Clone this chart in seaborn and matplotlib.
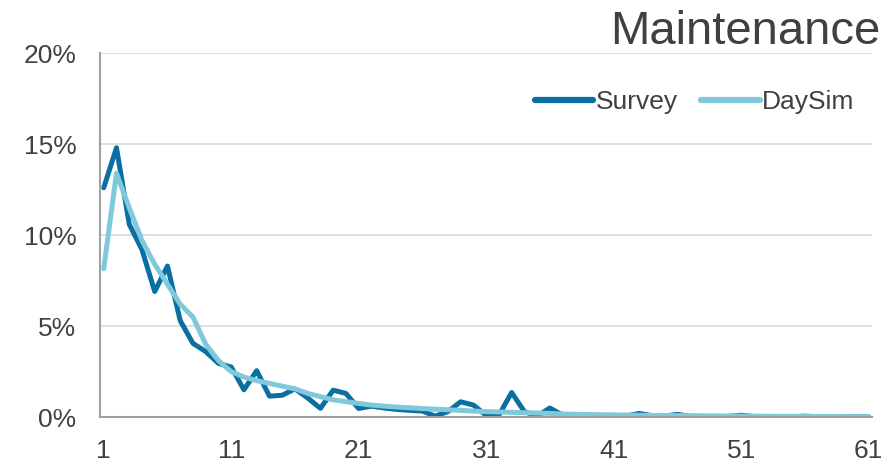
import numpy as np
import pandas as pd
import seaborn as sns
import matplotlib.pyplot as plt
from matplotlib.ticker import FuncFormatter

# share of maintenance tours by duration bin (%)
bins = list(range(1, 62))
survey = [12.6, 14.8, 10.6, 9.2, 6.9, 8.3, 5.3, 4.05, 3.6, 2.95,
          2.75, 1.5, 2.55, 1.15, 1.2, 1.55, 1.05, 0.48, 1.48, 1.3,
          0.47, 0.6, 0.5, 0.42, 0.37, 0.33, 0.05, 0.3, 0.84, 0.66,
          0.1, 0.1, 1.35, 0.3, 0.05, 0.5, 0.1, 0.08, 0.06, 0.05,
          0.05, 0.06, 0.2, 0.08, 0.05, 0.15, 0.04, 0.03, 0.03, 0.03,
          0.1, 0.03, 0.02, 0.02, 0.02, 0.05, 0.02, 0.01, 0.01, 0.01,
          0.02]
daysim = [8.15, 13.4, 11.5, 9.7, 8.4, 7.3, 6.2, 5.5, 4.0, 3.1,
          2.5, 2.2, 2.0, 1.85, 1.7, 1.55, 1.3, 1.12, 0.95, 0.85,
          0.75, 0.66, 0.6, 0.55, 0.51, 0.47, 0.43, 0.4, 0.37, 0.33,
          0.3, 0.28, 0.26, 0.24, 0.22, 0.2, 0.17, 0.15, 0.14, 0.13,
          0.12, 0.11, 0.1, 0.09, 0.085, 0.08, 0.075, 0.07, 0.065, 0.06,
          0.055, 0.05, 0.045, 0.04, 0.04, 0.035, 0.03, 0.03, 0.025, 0.02,
          0.02]
series_names = ["Survey", "DaySim"]
colors = ["#0a6fa3", "#80c8dc"]

df = pd.DataFrame({
    "bin": bins * 2,
    "share": survey + daysim,
    "source": ["Survey"] * len(bins) + ["DaySim"] * len(bins),
})

sns.set_theme(style="white")
plt.rcParams["font.family"] = ["Liberation Sans", "DejaVu Sans"]
text_color = "#404040"

fig = plt.figure(figsize=(8.92, 4.66), dpi=100)
ax = fig.add_axes([0.112, 0.105, 0.866, 0.781])

sns.lineplot(data=df, x="bin", y="share", hue="source", hue_order=series_names,
             palette=colors, linewidth=3.6, ax=ax, legend=True)
for line in ax.get_lines():
    line.set_solid_joinstyle("round")
    line.set_solid_capstyle("round")

ax.set_xlim(0.7, 61.3)
ax.set_ylim(0, 20)
ax.set_xticks(range(1, 62, 10))
ax.set_yticks(range(0, 21, 5))
ax.yaxis.set_major_formatter(FuncFormatter(lambda v, p: f"{v:.0f}%"))
ax.set_xlabel("")
ax.set_ylabel("")
ax.grid(axis="y", color="#d9d9d9", linewidth=1.2)
ax.set_axisbelow(True)
ax.tick_params(axis="both", length=0, labelsize=19, labelcolor=text_color)
ax.tick_params(axis="y", pad=17)
ax.tick_params(axis="x", pad=16)
for side in ["top", "right"]:
    ax.spines[side].set_visible(False)
for side in ["left", "bottom"]:
    ax.spines[side].set_color("#a0a0a0")
    ax.spines[side].set_linewidth(1.5)

leg = ax.legend(loc="center right", bbox_to_anchor=(0.958, 0.781), bbox_transform=fig.transFigure,
                ncol=2, frameon=False, fontsize=19, handlelength=2.2, handletextpad=0.1,
                columnspacing=0.9, borderaxespad=0, borderpad=0)
for t in leg.get_texts():
    t.set_color(text_color)
for h in leg.get_lines():
    h.set_linewidth(4.5)

fig.text(0.987, 0.978, "Maintenance", ha="right", va="top", fontsize=34, color=text_color)

fig.savefig("out.png", dpi=100)
